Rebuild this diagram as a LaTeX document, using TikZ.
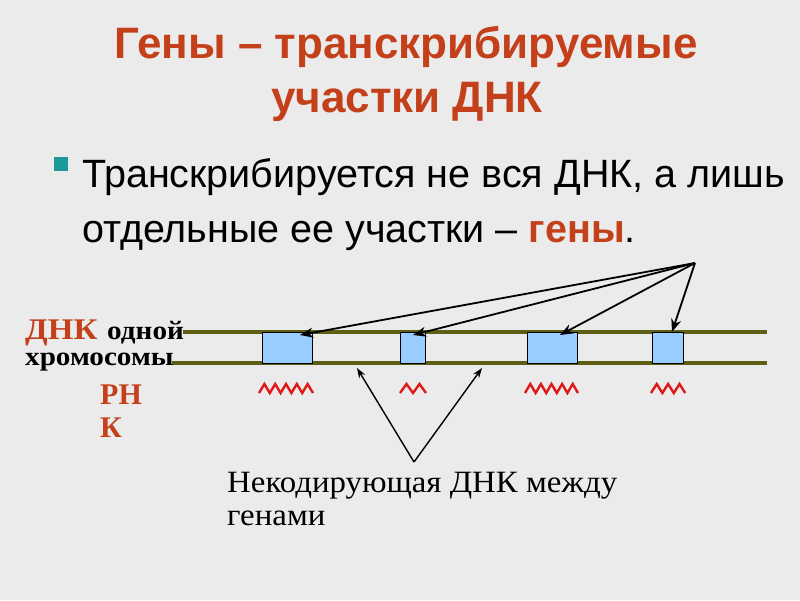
\documentclass[tikz,border=0pt]{standalone}
\usepackage{fontspec}
\setmainfont{Liberation Serif}
\newfontfamily\arialf{Liberation Sans}
\newfontfamily\serifwide[FakeStretch=1.1]{Liberation Serif}
\newfontfamily\serifnk[FakeStretch=1.06]{Liberation Serif}
\usetikzlibrary{arrows.meta}
\definecolor{bg}{HTML}{EBEBEB}
\definecolor{titlered}{HTML}{C4401A}
\definecolor{olive}{HTML}{5E5E14}
\definecolor{genefill}{HTML}{99CCFF}
\definecolor{rnared}{HTML}{E01818}
\definecolor{teal}{HTML}{1A9A9A}
\tikzset{
  dnaline/.style={olive, line width=4pt},
  genebox/.style={draw=black, fill=genefill, line width=1pt, inner sep=0pt},
  rna/.style={rnared, line width=2.4pt, line join=miter},
  arr/.style={-{Stealth[length=13pt,width=10pt]}, line width=1.8pt, black},
  arrthin/.style={-{Stealth[length=10pt,width=7pt]}, line width=1.4pt, black},
  txt/.style={inner sep=0pt, anchor=base west},
}
\begin{document}
\begin{tikzpicture}[x=1pt,y=-1pt]
\fill[bg] (0,0) rectangle (800,600);
\useasboundingbox (0,0) rectangle (800,600);
% title
\node[inner sep=0pt, anchor=base, text=titlered, font=\arialf\bfseries\fontsize{44}{50}\selectfont] (t1) at (406,58) {Гены – транскрибируемые};
\node[inner sep=0pt, anchor=base, text=titlered, font=\arialf\bfseries\fontsize{44}{50}\selectfont] (t2) at (407,112) {участки ДНК};
% bullet
\node[fill=teal, minimum size=14pt, inner sep=0pt] (bul) at (61,164) {};
\node[txt, font=\arialf\fontsize{39.5}{48}\selectfont] (b1) at (82,187) {Транскрибируется не вся ДНК, а лишь};
\node[txt, font=\arialf\fontsize{39.5}{48}\selectfont] (b2) at (82,242) {отдельные ее участки – {\bfseries\color{titlered}гены}.};
% DNA lines
\coordinate (l1a) at (183,332); \coordinate (l1b) at (767,332);
\coordinate (l2a) at (172,363); \coordinate (l2b) at (767,363);
\draw[dnaline] (l1a) -- (l1b);
\draw[dnaline] (l2a) -- (l2b);
% genes
\node[genebox, minimum width=50pt, minimum height=31pt] (g1) at (287,348) {};
\node[genebox, minimum width=25pt, minimum height=31pt] (g2) at (413,348) {};
\node[genebox, minimum width=50pt, minimum height=31pt] (g3) at (552,348) {};
\node[genebox, minimum width=31pt, minimum height=31pt] (g4) at (667.5,348) {};
% RNA
\coordinate (r1a) at (259,393);
\coordinate (r2a) at (400,393);
\coordinate (r3a) at (525,393);
\coordinate (r4a) at (651,393);
\draw[rna] (r1a) \foreach \i in {1,...,10}{ -- ++(5.4,{9-18*mod(\i,2)}) };
\draw[rna] (r2a) \foreach \i in {1,...,4}{ -- ++(6.5,{9-18*mod(\i,2)}) };
\draw[rna] (r3a) \foreach \i in {1,...,10}{ -- ++(5.3,{9-18*mod(\i,2)}) };
\draw[rna] (r4a) \foreach \i in {1,...,6}{ -- ++(5.7,{9-18*mod(\i,2)}) };
% arrows from "гены"
\coordinate (src) at (695,263);
\coordinate (a1) at (300,335);
\coordinate (a2) at (413,335);
\coordinate (a3) at (560,335);
\coordinate (a4) at (672,332);
\draw[arr] (src) -- (a1);
\draw[arr] (src) -- (a2);
\draw[arr] (src) -- (a3);
\draw[arr] (src) -- (a4);
% non-coding arrows
\coordinate (nc) at (414,462);
\coordinate (n1) at (357,368);
\coordinate (n2) at (482,368);
\draw[arrthin] (nc) -- (n1);
\draw[arrthin] (nc) -- (n2);
% labels
\node[txt, font=\serifwide\bfseries\fontsize{30}{36}\selectfont, text=titlered] (dnk) at (25,339) {ДНК};
\node[txt, font=\serifwide\bfseries\fontsize{26.5}{30}\selectfont] (odn) at (107,339) {одной};
\node[txt, font=\serifwide\bfseries\fontsize{26.5}{30}\selectfont] (chr) at (25,365) {хромосомы};
\node[txt, font=\bfseries\fontsize{30}{34}\selectfont, text=titlered] (rn) at (100,404) {РН};
\node[txt, font=\bfseries\fontsize{30}{34}\selectfont, text=titlered] (k) at (100,437) {К};
\node[txt, font=\serifnk\fontsize{31}{33}\selectfont] (nk1) at (227,492) {Некодирующая ДНК между};
\node[txt, font=\serifnk\fontsize{31}{33}\selectfont] (nk2) at (227,525) {генами};
\end{tikzpicture}
\end{document}
